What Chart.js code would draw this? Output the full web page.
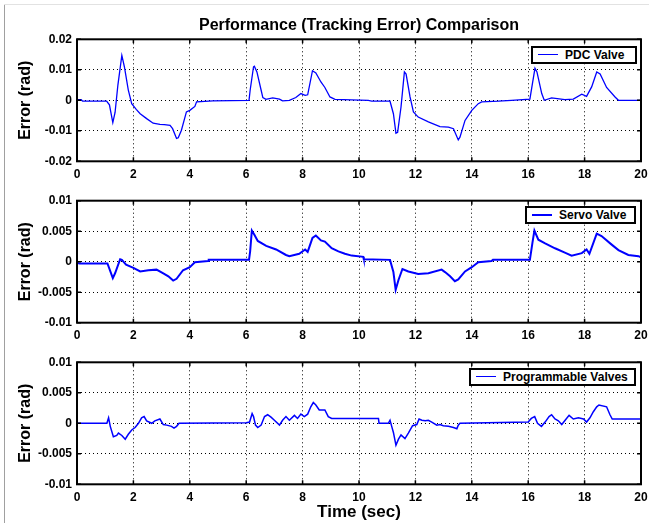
<!DOCTYPE html>
<html>
<head>
<meta charset="utf-8">
<script src="https://cdn.jsdelivr.net/npm/chart.js@4.4.1/dist/chart.umd.min.js"></script>
<style>
  html, body { margin: 0; padding: 0; background: #fff; }
  #wrap { position: relative; width: 649px; height: 523px; overflow: hidden; background: #fff; }
  #wrap canvas { position: absolute; left: 0; }
  .edge-left { position: absolute; left: 4px; top: 4px; width: 1px; height: 519px; background: #a0a0a0; }
  .edge-top { position: absolute; left: 4px; top: 4px; width: 645px; height: 1px; background: #e2e2e2; }
  .legend {
    position: absolute; box-sizing: border-box; height: 18px;
    border: 2px solid #000; background: #fff;
    display: flex; align-items: center; padding: 0 6px 0 5px;
    font: bold 12px "Liberation Sans", Arial, sans-serif; color: #000; white-space: nowrap;
  }
  .legend i { display: inline-block; width: 20px; background: #0000ff; margin-right: 7px; }
</style>
</head>
<body>
<div id="wrap">
  <div class="edge-left"></div>
  <div class="edge-top"></div>
  <canvas id="c0" width="649" height="185" style="top:0"></canvas>
  <canvas id="c1" width="649" height="160" style="top:185px"></canvas>
  <canvas id="c2" width="649" height="178" style="top:345px"></canvas>
</div>
<script>
// ---- data ----
const seriesNames = ["PDC Valve", "Servo Valve", "Programmable Valves"];

const pdcTime = [0, 0.15, 0.2, 1.05, 1.15, 1.27, 1.35, 1.45, 1.59, 1.68, 1.82, 1.94, 2.1, 2.24, 2.47, 2.7, 2.94, 3.1, 3.3, 3.39, 3.53, 3.59, 3.7, 3.88, 4.0, 4.18, 4.24, 4.82, 6.1, 6.14, 6.26, 6.29, 6.38, 6.53, 6.59, 6.7, 6.94, 7.18, 7.29, 7.53, 7.76, 7.94, 8.09, 8.18, 8.35, 8.47, 8.65, 8.79, 8.97, 9.15, 10.33, 10.45, 11.1, 11.22, 11.31, 11.37, 11.49, 11.61, 11.67, 11.81, 11.93, 12.1, 12.46, 12.87, 13.17, 13.35, 13.52, 13.58, 13.76, 14.0, 14.23, 14.35, 14.94, 15.41, 16.06, 16.15, 16.24, 16.31, 16.48, 16.57, 16.83, 17.3, 17.6, 17.9, 18.07, 18.25, 18.43, 18.55, 18.78, 19.08, 19.2, 20];
const pdcError = [0.0002, 0.0002, -0.0003, -0.0003, -0.0015, -0.0073, -0.004, 0.005, 0.0147, 0.011, 0.0033, -0.0011, -0.003, -0.0044, -0.006, -0.0075, -0.0079, -0.008, -0.0082, -0.0093, -0.0125, -0.0123, -0.0099, -0.0038, -0.0033, -0.002, -0.0005, -0.0002, 0, 0.0033, 0.011, 0.0112, 0.0093, 0.0033, 0.0009, 0.0003, 0.0008, 0.0004, -0.0002, 0, 0.0009, 0.0022, 0.0016, 0.0018, 0.0097, 0.009, 0.006, 0.0042, 0.0011, 0.0003, 0, -0.0003, -0.0003, -0.0044, -0.0108, -0.0105, -0.0022, 0.0093, 0.0086, 0.0011, -0.0038, -0.0055, -0.0071, -0.0086, -0.0088, -0.0093, -0.013, -0.0121, -0.0066, -0.0033, -0.0011, -0.0005, -0.0003, 0, 0.0004, 0.0055, 0.0105, 0.0093, 0.0022, 0, 0.0008, 0.0002, 0.0004, 0.002, 0.0013, 0.0044, 0.0093, 0.0086, 0.0042, 0.0011, 0, 0];

const servoTime = [0, 0.1, 1.08, 1.27, 1.35, 1.53, 1.59, 1.74, 2.0, 2.24, 2.53, 2.82, 3.06, 3.24, 3.41, 3.53, 3.76, 4.0, 4.18, 4.65, 4.67, 6.1, 6.14, 6.2, 6.29, 6.41, 6.71, 7.06, 7.41, 7.53, 7.88, 8.09, 8.18, 8.35, 8.47, 8.65, 8.79, 9.03, 9.27, 9.5, 9.74, 10.15, 10.17, 11.1, 11.22, 11.3, 11.4, 11.54, 11.75, 12.1, 12.46, 12.93, 13.05, 13.23, 13.4, 13.52, 13.76, 14.0, 14.23, 14.7, 14.75, 16.06, 16.15, 16.22, 16.36, 16.6, 16.95, 17.3, 17.54, 17.9, 18.07, 18.17, 18.43, 18.6, 18.96, 19.2, 19.55, 19.91, 20];
const servoError = [-0.0002, -0.0003, -0.0003, -0.0027, -0.0019, 0.0004, 0.0003, -0.0005, -0.001, -0.0016, -0.0014, -0.0013, -0.0019, -0.0024, -0.0031, -0.0028, -0.0014, -0.0009, -0.0001, 0.0001, 0.0003, 0.0003, 0.0017, 0.0051, 0.0044, 0.0034, 0.0026, 0.002, 0.0011, 0.0009, 0.0013, 0.002, 0.0016, 0.0039, 0.0043, 0.0035, 0.0033, 0.0022, 0.0017, 0.0013, 0.001, 0.0008, 0.0004, 0.0003, -0.0017, -0.0046, -0.003, -0.0012, -0.0016, -0.002, -0.0019, -0.0013, -0.0017, -0.0024, -0.0032, -0.0029, -0.0016, -0.0009, -0.0001, 0.0001, 0.0003, 0.0003, 0.0031, 0.0051, 0.0036, 0.003, 0.0022, 0.0015, 0.001, 0.0014, 0.002, 0.0013, 0.0046, 0.0042, 0.0028, 0.0019, 0.0011, 0.0009, 0.0007];

const progTime = [0, 1.06, 1.12, 1.18, 1.29, 1.41, 1.47, 1.59, 1.71, 1.82, 1.94, 2.06, 2.18, 2.29, 2.38, 2.47, 2.65, 2.76, 2.94, 3.06, 3.18, 3.35, 3.44, 3.53, 3.62, 6.0, 6.12, 6.21, 6.26, 6.33, 6.41, 6.53, 6.65, 6.76, 6.88, 7.0, 7.18, 7.29, 7.41, 7.53, 7.71, 7.82, 7.94, 8.06, 8.18, 8.29, 8.38, 8.47, 8.59, 8.79, 8.91, 9.03, 10.69, 10.71, 11.04, 11.1, 11.16, 11.22, 11.31, 11.4, 11.49, 11.63, 11.75, 11.9, 12.05, 12.13, 12.23, 12.35, 12.46, 12.58, 12.76, 12.87, 12.99, 13.17, 13.35, 13.47, 13.52, 13.58, 16.0, 16.11, 16.23, 16.33, 16.47, 16.6, 16.74, 16.83, 16.95, 17.07, 17.19, 17.31, 17.45, 17.6, 17.78, 17.96, 18.07, 18.19, 18.31, 18.43, 18.51, 18.78, 18.9, 18.98, 20];
const progError = [0, 0, 0.0009, -0.0005, -0.0022, -0.002, -0.0016, -0.002, -0.0026, -0.0018, -0.0011, -0.0007, 0, 0.0009, 0.0011, 0.0004, 0, 0.0004, 0.0007, -0.0002, -0.0003, -0.0005, -0.0008, -0.0005, 0, 0.0001, 0.0002, 0.0016, 0.0011, -0.0003, -0.0007, -0.0003, 0.0011, 0.0014, 0.001, 0.0005, -0.0003, 0.0005, 0.0011, 0.0005, 0.0013, 0.0008, 0.0015, 0.0011, 0.0015, 0.0027, 0.0034, 0.003, 0.0022, 0.0022, 0.0011, 0.0008, 0.0008, 0, 0, 0.0005, -0.0005, -0.0015, -0.0036, -0.0026, -0.0019, -0.0025, -0.0016, -0.0004, -0.0002, 0.0007, 0.0005, 0.0004, 0.0005, 0.0002, -0.0003, -0.0002, -0.0004, -0.0005, -0.0007, -0.0009, -0.0003, 0, 0.0002, 0.0008, 0.0011, 0, -0.0005, 0.0002, 0.0011, 0.0014, 0.0007, 0.0004, -0.0002, 0.0005, 0.0013, 0.0007, 0.0009, 0.0007, 0.0002, 0.0009, 0.0019, 0.0027, 0.003, 0.0027, 0.0014, 0.0007, 0.0007];

const xTicks = [0, 2, 4, 6, 8, 10, 12, 14, 16, 18, 20];
const xLabels = ["0", "2", "4", "6", "8", "10", "12", "14", "16", "18", "20"];
const yTicksWide = [-0.02, -0.01, 0, 0.01, 0.02];
const yLabelsWide = ["-0.02", "-0.01", "0", "0.01", "0.02"];
const yTicksNarrow = [-0.01, -0.005, 0, 0.005, 0.01];
const yLabelsNarrow = ["-0.01", "-0.005", "0", "0.005", "0.01"];

// ---- drawing ----
const FONT = '"Liberation Sans", Arial, Helvetica, sans-serif';

// black box round the plot area plus MATLAB-style inward ticks
const frameTicks = {
  id: "frameTicks",
  afterDatasetsDraw(chart) {
    const { ctx, chartArea: a, scales } = chart;
    const len = 4;
    ctx.save();
    ctx.strokeStyle = "#000";
    ctx.lineWidth = 1.5;
    ctx.beginPath();
    scales.x.ticks.forEach(t => {
      const px = scales.x.getPixelForValue(t.value);
      ctx.moveTo(px, a.bottom); ctx.lineTo(px, a.bottom - len);
      ctx.moveTo(px, a.top); ctx.lineTo(px, a.top + len);
    });
    scales.y.ticks.forEach(t => {
      const py = scales.y.getPixelForValue(t.value);
      ctx.moveTo(a.left, py); ctx.lineTo(a.left + len, py);
      ctx.moveTo(a.right, py); ctx.lineTo(a.right - len, py);
    });
    ctx.stroke();
    ctx.lineWidth = 2;
    ctx.strokeRect(a.left, a.top, a.right - a.left, a.bottom - a.top);
    ctx.restore();
  }
};

function makePanel(id, name, times, errors, yTicks, yLabels, o) {
  const points = times.map((t, i) => ({ x: t, y: errors[i] }));
  return new Chart(document.getElementById(id), {
    type: "line",
    data: {
      datasets: [{
        label: name,
        data: points,
        borderColor: "#0000ff",
        borderWidth: o.lineWidth,
        pointRadius: 0,
        tension: 0,
        fill: false
      }]
    },
    options: {
      responsive: false,
      animation: false,
      devicePixelRatio: 1,
      layout: { padding: { top: o.padTop, right: 8, left: 0, bottom: 0 } },
      plugins: {
        legend: { display: false },
        tooltip: { enabled: false },
        title: o.title ? {
          display: true, text: o.title, fullSize: false, color: "#000",
          font: { family: FONT, size: 16, weight: "bold", lineHeight: 1.2 },
          padding: { top: 16, bottom: 4.1 }
        } : { display: false }
      },
      scales: {
        x: {
          type: "linear", min: 0, max: 20,
          afterBuildTicks: s => { s.ticks = xTicks.map(v => ({ value: v })); },
          afterFit: s => { s.height = o.xBox; s.paddingLeft = 0; s.paddingRight = 0; },
          ticks: {
            autoSkip: false, maxRotation: 0, padding: 6, color: "#000",
            font: { family: FONT, size: 12, weight: "bold" },
            callback: (v, i) => xLabels[i]
          },
          grid: { color: "#000", lineWidth: 1, drawTicks: false },
          border: { display: false, dash: [1, 3] },
          title: o.xTitle ? {
            display: true, text: o.xTitle, color: "#000",
            font: { family: FONT, size: 17, weight: "bold", lineHeight: 1.2 },
            padding: { top: 0, bottom: 0.5 }
          } : { display: false }
        },
        y: {
          type: "linear", min: yTicks[0], max: yTicks[yTicks.length - 1],
          afterBuildTicks: s => { s.ticks = yTicks.map(v => ({ value: v })); },
          afterFit: s => { s.width = 77; s.paddingTop = 0; s.paddingBottom = 0; },
          ticks: {
            autoSkip: false, padding: 5, color: "#000",
            font: { family: FONT, size: 12, weight: "bold" },
            callback: (v, i) => yLabels[i]
          },
          grid: { color: "#000", lineWidth: 1, drawTicks: false },
          border: { display: false, dash: [1, 3] },
          title: {
            display: true, text: "Error (rad)", color: "#000",
            font: { family: FONT, size: 16, weight: "bold", lineHeight: 1.2 },
            padding: { top: 16.4, bottom: 0 }
          }
        }
      }
    },
    plugins: [frameTicks]
  });
}

makePanel("c0", seriesNames[0], pdcTime, pdcError, yTicksWide, yLabelsWide,
  { lineWidth: 1.3, padTop: 0, xBox: 23.7, title: "Performance (Tracking Error) Comparison" });
makePanel("c1", seriesNames[1], servoTime, servoError, yTicksNarrow, yLabelsNarrow,
  { lineWidth: 2, padTop: 15.7, xBox: 22.3 });
makePanel("c2", seriesNames[2], progTime, progError, yTicksNarrow, yLabelsNarrow,
  { lineWidth: 1.5, padTop: 17.3, xBox: 38.7, xTitle: "Time (sec)" });

// legends boxed in the upper right of each panel
const legendBoxes = [
  { left: 531, top: 45.5, width: 106, line: 1.3 },
  { left: 525, top: 206, width: 111, line: 2 },
  { left: 469, top: 367.5, width: 167, line: 1.5 }
];
seriesNames.forEach((name, i) => {
  const d = document.createElement("div");
  d.className = "legend";
  d.style.left = legendBoxes[i].left + "px";
  d.style.top = legendBoxes[i].top + "px";
  d.style.width = legendBoxes[i].width + "px";
  d.innerHTML = "<i></i><span></span>";
  d.querySelector("i").style.height = legendBoxes[i].line + "px";
  d.querySelector("span").textContent = name;
  document.getElementById("wrap").appendChild(d);
});
</script>
</body>
</html>
